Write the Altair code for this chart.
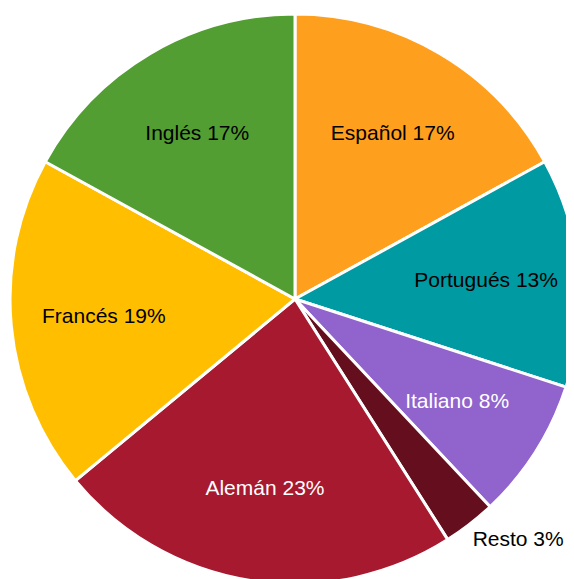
import altair as alt
import pandas as pd

languages = ["Español", "Portugués", "Italiano", "Resto", "Alemán", "Francés", "Inglés"]
shares = [17, 13, 8, 3, 23, 19, 17]
colors = ["#FF9F1E", "#009AA3", "#9063CD", "#650F1E", "#A6192E", "#FFBF00", "#529E32"]
label_colors = ["black", "black", "white", "black", "white", "black", "black"]

df = pd.DataFrame({
    "lang": languages,
    "share": shares,
    "order": list(range(len(languages))),
    "label": [f"{l} {s}%" for l, s in zip(languages, shares)],
    "tcolor": label_colors,
    "outside": [l == "Resto" for l in languages],
})

cx, cy = 287, 291

base = alt.Chart(df).encode(
    theta=alt.Theta("share:Q", stack=True),
    order=alt.Order("order:Q"),
)

arcs = base.mark_arc(radius=285, stroke="white", strokeWidth=3).encode(
    x=alt.value(cx), y=alt.value(cy),
    color=alt.Color("lang:N", scale=alt.Scale(domain=languages, range=colors), legend=None),
)

inner = base.mark_text(radius=192, font="Liberation Sans", fontSize=21).encode(
    x=alt.value(cx), y=alt.value(cy),
    text="label:N",
    color=alt.Color("tcolor:N", scale=None),
    opacity=alt.condition("datum.outside", alt.value(0), alt.value(1)),
)

outer = base.mark_text(radius=325, font="Liberation Sans", fontSize=21, color="black",
                       dx=24, dy=-16).encode(
    x=alt.value(cx), y=alt.value(cy),
    text="label:N",
    opacity=alt.condition("datum.outside", alt.value(1), alt.value(0)),
)

chart = alt.layer(arcs, inner, outer).properties(
    width=558, height=571, autosize=alt.AutoSizeParams(type="none"), padding=0
).configure_view(stroke=None)

chart.save("out.html", embed_options={"renderer": "svg", "actions": False})
